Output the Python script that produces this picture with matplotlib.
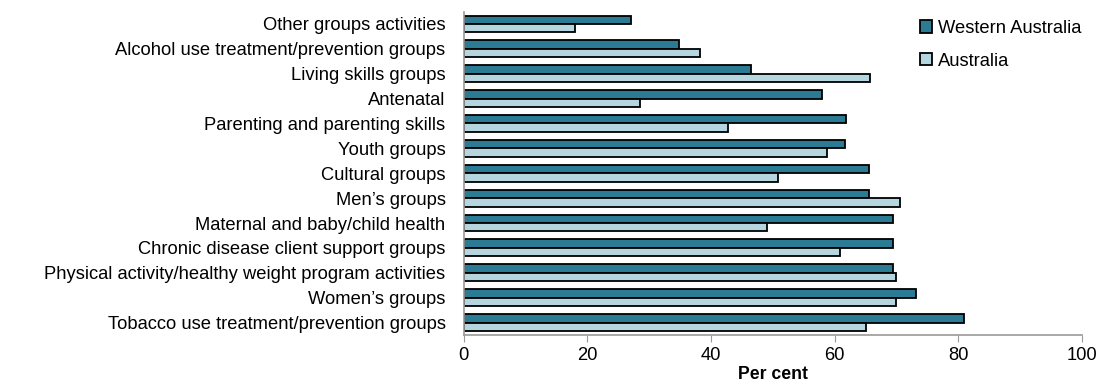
import matplotlib
matplotlib.use("Agg")
import matplotlib.pyplot as plt
import numpy as np

plt.rcParams["font.family"] = ["Liberation Sans", "DejaVu Sans"]

categories = [
    "Other groups activities",
    "Alcohol use treatment/prevention groups",
    "Living skills groups",
    "Antenatal",
    "Parenting and parenting skills",
    "Youth groups",
    "Cultural groups",
    "Men\u2019s groups",
    "Maternal and baby/child health",
    "Chronic disease client support groups",
    "Physical activity/healthy weight program activities",
    "Women\u2019s groups",
    "Tobacco use treatment/prevention groups",
]
western_australia = [27, 34.8, 46.5, 58, 61.8, 61.7, 65.5, 65.5, 69.5, 69.5, 69.5, 73.2, 81]
australia = [18, 38.2, 65.7, 28.5, 42.8, 58.7, 50.9, 70.5, 49, 60.8, 70, 70, 65]

WA_COLOR = "#2b7b94"
AUS_COLOR = "#b6d6df"
FS = 13.2

fig = plt.figure(figsize=(11.04, 3.85), dpi=100)
ax = fig.add_axes([0.420, 0.13, 0.560, 0.84])

y = np.arange(len(categories))
h = 0.34
ax.barh(y - h / 2, western_australia, h, color=WA_COLOR, edgecolor="black",
        linewidth=1.3, label="Western Australia")
ax.barh(y + h / 2, australia, h, color=AUS_COLOR, edgecolor="black",
        linewidth=1.3, label="Australia")

ax.set_ylim(len(categories) - 0.5, -0.5)
ax.set_xlim(0, 100)
ax.set_yticks(y)
ax.set_yticklabels(categories, fontsize=FS)
ax.tick_params(axis="y", length=0, pad=13)
ax.set_xticks(range(0, 101, 20))
ax.tick_params(axis="x", labelsize=FS, length=5, color="#999999", direction="out", pad=4)
ax.set_xlabel("Per cent", fontsize=FS - 0.5, fontweight="bold", labelpad=1)

for side in ("top", "right"):
    ax.spines[side].set_visible(False)
for side in ("left", "bottom"):
    ax.spines[side].set_color("#999999")
    ax.spines[side].set_linewidth(1.2)

ax.legend(loc="upper right", bbox_to_anchor=(1.025, 1.025), frameon=False,
          fontsize=FS, handlelength=0.65, handleheight=0.65, labelspacing=0.85,
          handletextpad=0.3)

fig.savefig("out.png", dpi=100)
